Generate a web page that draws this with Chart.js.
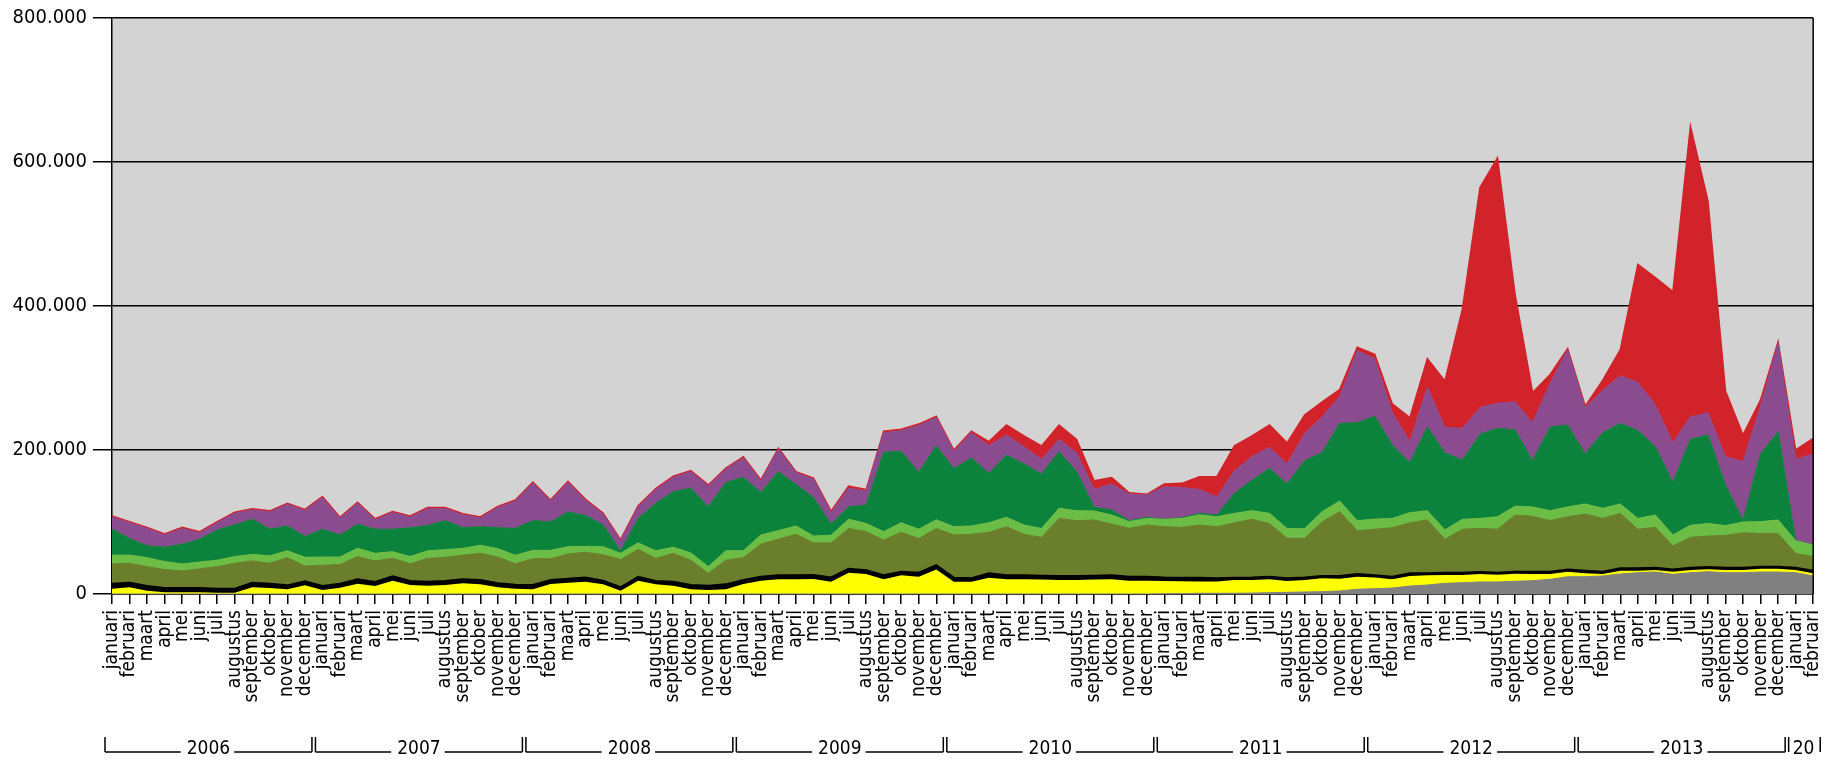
<!DOCTYPE html>
<html>
<head>
<meta charset="utf-8">
<script src="https://cdn.jsdelivr.net/npm/chart.js@4.4.0/dist/chart.umd.min.js"></script>
<style>
  html, body { margin: 0; padding: 0; background: #fff; }
  canvas { display: block; }
</style>
</head>
<body>
<canvas id="chart" width="1842" height="763" style="width:1842px;height:763px"></canvas>
<script>
// maanden en jaren voor de x-as
const monthNames = ['januari', 'februari', 'maart', 'april', 'mei', 'juni', 'juli',
    'augustus', 'september', 'oktober', 'november', 'december'];
const years = [2006, 2007, 2008, 2009, 2010, 2011, 2012, 2013, 2014];
const monthCount = 98; // januari 2006 t/m februari 2014

const yTicks = [0, 200000, 400000, 600000, 800000];

// bovenrand van elke laag (opgestapeld), per jaar een regel
const grayTop = [
    0, 0, 0, 0, 0, 0, 0, 0, 0, 0, 0, 0,
    0, 0, 0, 0, 0, 0, 0, 0, 0, 0, 0, 0,
    0, 0, 0, 0, 0, 0, 0, 0, 0, 0, 0, 0,
    0, 0, 0, 0, 0, 0, 0, 0, 0, 0, 0, 0,
    0, 0, 0, 0, 0, 0, 0, 0, 0, 0, 0, 0,
    300, 500, 1000, 1000, 1000, 1300, 1800, 2300, 2800, 3200, 4200, 6500,
    7400, 8300, 11000, 12500, 14800, 15700, 16700, 16700, 17600, 18500, 20400, 24000,
    24000, 25000, 27800, 29600, 30500, 27300, 29600, 31000, 29600, 29600, 30500, 30500,
    29600, 25000
];
const yellowTop = [
    7400, 9300, 4600, 2300, 2300, 2300, 1800, 1800, 9300, 8300, 6500, 12000,
    5600, 8800, 14400, 11000, 18500, 12500, 11600, 12500, 14800, 13400, 9300, 7400,
    6500, 13900, 15700, 17000, 13500, 4600, 18500, 13400, 11600, 6500, 5600, 6500,
    13900, 18500, 20400, 20400, 20800, 17000, 29600, 27800, 20400, 26000, 24000, 34000,
    17000, 17000, 22700, 20400, 20400, 20000, 19400, 19400, 20000, 20400, 18500, 18500,
    18000, 17600, 17500, 17500, 19400, 19400, 20400, 18000, 19400, 21800, 21300, 24000,
    23000, 20400, 25000, 26000, 26400, 26400, 27800, 26900, 28200, 27800, 27800, 31000,
    28700, 27800, 32400, 32400, 33300, 31000, 33300, 34300, 33300, 33300, 35000, 35000,
    33300, 28700
];
const blackTop = [
    14400, 15700, 11000, 8300, 8300, 8300, 7400, 7400, 15700, 14400, 12000, 17600,
    11000, 14400, 20400, 16700, 24500, 18000, 17000, 18000, 20400, 19400, 14800, 13000,
    12500, 19400, 21300, 23000, 18500, 9300, 24000, 18000, 17000, 12500, 11600, 13400,
    19400, 24000, 26000, 26000, 26400, 23000, 35000, 33000, 26000, 31000, 29600, 40000,
    22700, 22000, 28700, 26000, 26000, 25500, 25000, 25000, 25500, 26000, 24000, 24000,
    23000, 22700, 22500, 22000, 22700, 23000, 24000, 21800, 23000, 25000, 25000, 27800,
    26000, 24000, 28700, 28700, 29600, 29600, 30500, 29600, 31000, 31000, 31000, 34000,
    32400, 31000, 35700, 35700, 36600, 34000, 36600, 37500, 36600, 36600, 38000, 38000,
    36600, 32400
];
const oliveTop = [
    41700, 42600, 38000, 34000, 32000, 35000, 38000, 42600, 46000, 42600, 50500, 39000,
    40000, 41000, 52000, 46000, 49500, 42000, 49500, 51000, 54000, 56500, 51400, 42000,
    49000, 49000, 55600, 58000, 54500, 48000, 62000, 49500, 56500, 47000, 28700, 47000,
    50500, 69500, 76000, 83000, 71000, 71000, 91000, 86600, 75000, 85700, 77000, 91000,
    82000, 83000, 85700, 93500, 83000, 78700, 105000, 101900, 102800, 97200, 91200, 95800,
    93500, 92600, 95800, 93500, 99000, 103700, 98000, 77300, 77300, 100500, 114400, 88000,
    90000, 92000, 99000, 102800, 76000, 90000, 91000, 90000, 109700, 108000, 101900, 107400,
    111000, 105000, 112000, 90000, 92600, 66700, 78700, 80500, 81500, 85000, 84000, 84000,
    56500, 51900
];
const lightGreenTop = [
    54000, 54000, 50500, 45000, 41700, 44500, 47000, 52000, 55000, 53000, 60000, 51000,
    51400, 51400, 63400, 56500, 58800, 52000, 60000, 61600, 63400, 67600, 63000, 53700,
    60600, 60600, 65700, 66200, 65700, 56500, 71000, 60000, 65000, 57000, 38000, 60000,
    60000, 82000, 88000, 94500, 80500, 81500, 103700, 98000, 86600, 99000, 90000, 103000,
    93500, 94500, 99000, 106500, 95800, 91000, 119000, 115700, 115300, 109700, 100500, 105000,
    103700, 105000, 110000, 107400, 112000, 115700, 112000, 91000, 90700, 114400, 129000, 101900,
    104000, 105000, 113000, 115700, 89000, 103700, 105000, 107400, 122000, 121000, 115700, 121000,
    125000, 119000, 125000, 105000, 109700, 82000, 95400, 98000, 95000, 100000, 100500, 102800,
    74000, 68000
];
const darkGreenTop = [
    90000, 77000, 67000, 65000, 69000, 76000, 89000, 96000, 104000, 90000, 94500, 80000,
    90000, 82000, 97000, 90000, 90000, 92000, 95000, 102000, 92000, 93500, 92000, 91000,
    102000, 100000, 114000, 109000, 96000, 60000, 105000, 126000, 142000, 147000, 121000, 155000,
    162000, 141000, 170000, 152000, 134000, 97000, 121000, 123600, 197000, 198000, 169000, 206000,
    174000, 189000, 167600, 193000, 180600, 166700, 197700, 170000, 120400, 116700, 101900, 106500,
    104000, 106000, 112000, 109700, 139800, 158000, 174500, 152800, 185000, 196300, 237000, 238000,
    247000, 207000, 182400, 232000, 196000, 186000, 222000, 230000, 228000, 185000, 232000, 234700,
    194500, 224000, 237000, 227000, 204600, 154600, 214800, 220900, 151400, 101900, 194500, 225500,
    74000, 68000
];
const purpleTop = [
    107000, 99000, 91000, 82000, 91000, 85000, 99000, 112000, 117000, 114000, 124500, 116000,
    134000, 105000, 126000, 103000, 113000, 107000, 118500, 118500, 110000, 105500, 120000, 129000,
    154000, 129000, 155000, 130000, 111000, 74000, 121000, 145000, 162000, 170000, 150000, 173500,
    189000, 157000, 201000, 168500, 159700, 113000, 147000, 143000, 224000, 227000, 234000, 245000,
    198000, 224000, 206000, 220900, 204600, 187000, 214800, 196300, 145400, 152800, 138900, 137500,
    149000, 148000, 145000, 135000, 171000, 190800, 203700, 180600, 223000, 246000, 274000, 338000,
    327000, 252000, 211600, 287000, 231500, 230000, 259000, 265000, 267000, 238000, 292500, 339000,
    259000, 283000, 303000, 294000, 262600, 210000, 246000, 251700, 190800, 183800, 261000, 349000,
    187000, 194500
];
const redTop = [
    108500, 100500, 92500, 83500, 92500, 86500, 100500, 113500, 118500, 115500, 126000, 117500,
    135500, 106500, 127500, 104500, 114500, 108500, 120000, 120000, 111500, 107000, 121500, 130500,
    155500, 130500, 156500, 131500, 112500, 75500, 122500, 146500, 163500, 171500, 151500, 175000,
    190500, 158500, 202500, 170000, 161000, 115000, 150000, 145000, 226000, 229000, 236000, 247000,
    200000, 226000, 211600, 234700, 219500, 205600, 234700, 214800, 157400, 161600, 140700, 138400,
    152800, 153700, 163000, 163000, 206000, 219500, 234700, 210000, 248600, 267000, 284000, 342600,
    333000, 264000, 245000, 327000, 296000, 396000, 564600, 606000, 416500, 280000, 305000, 341000,
    261000, 297000, 339500, 458000, 439500, 420000, 650000, 546000, 281800, 220900, 269500, 350500,
    200000, 216000
];

const labels = [];
for (let i = 0; i < monthCount; i++) labels.push(monthNames[i % 12]);

const FONT = '"DejaVu Sans Condensed", "DejaVu Sans", sans-serif';

function layer(data, color, extra) {
    return Object.assign({
        data: data,
        fill: '-1',
        backgroundColor: color,
        borderColor: color,
        borderWidth: 1,
        pointRadius: 0,
        tension: 0
    }, extra || {});
}

const plotBackground = {
    id: 'plotBackground',
    beforeDraw(chart) {
        const { ctx, chartArea: a } = chart;
        ctx.save();
        ctx.fillStyle = '#d3d3d3';
        ctx.fillRect(a.left, a.top, a.right - a.left, a.bottom - a.top);
        ctx.restore();
    },
    afterDraw(chart) {
        const { ctx, chartArea: a } = chart;
        ctx.save();
        ctx.strokeStyle = '#000';
        ctx.lineWidth = 1.5;
        ctx.beginPath();
        ctx.moveTo(a.right, a.top);
        ctx.lineTo(a.right, a.bottom);
        ctx.stroke();
        ctx.restore();
    }
};

// jaartallen met haken onder de maandnamen
const yearBrackets = {
    id: 'yearBrackets',
    afterDraw(chart) {
        const { ctx } = chart;
        const x = chart.scales.x;
        const yLine = x.bottom - 11;
        const yTop = yLine - 15;
        const half = (x.getPixelForValue(1) - x.getPixelForValue(0)) * 0.4;
        ctx.save();
        ctx.strokeStyle = '#000';
        ctx.lineWidth = 1.5;
        ctx.fillStyle = '#000';
        ctx.font = '19px ' + FONT;
        ctx.textBaseline = 'middle';
        years.forEach((yr, i) => {
            const first = i * 12;
            const last = Math.min(first + 11, monthCount - 1);
            const xl = x.getPixelForValue(first) - half;
            const xr = x.getPixelForValue(last) + half;
            const text = String(yr);
            const w = ctx.measureText(text).width;
            ctx.beginPath();
            ctx.moveTo(xl, yTop);
            ctx.lineTo(xl, yLine);
            ctx.moveTo(xr, yTop);
            ctx.lineTo(xr, yLine);
            if (w + 16 < xr - xl) {
                const c = (xl + xr) / 2;
                ctx.moveTo(xl, yLine);
                ctx.lineTo(c - w / 2 - 6, yLine);
                ctx.moveTo(c + w / 2 + 4, yLine);
                ctx.lineTo(xr, yLine);
                ctx.stroke();
                ctx.textAlign = 'center';
                ctx.fillText(text, c, yLine - 3);
            } else {
                ctx.stroke();
                ctx.save();
                ctx.beginPath();
                ctx.rect(xl + 1, yTop - 12, xr - xl - 6, 34);
                ctx.clip();
                ctx.textAlign = 'left';
                ctx.fillText(text, xl + 4, yLine - 3);
                ctx.restore();
            }
        });
        ctx.restore();
    }
};

const ctx = document.getElementById('chart').getContext('2d');
const myChart = new Chart(ctx, {
    type: 'line',
    data: {
        labels: labels,
        datasets: [
            layer(grayTop, '#808080', { fill: 'origin' }),
            layer(yellowTop, '#ffff00'),
            layer(blackTop, '#000000', { borderWidth: 2, order: -1 }),
            layer(oliveTop, '#6b7e2b'),
            layer(lightGreenTop, '#6cbd45'),
            layer(darkGreenTop, '#0c833c'),
            layer(purpleTop, '#8b4c8f'),
            layer(redTop, '#d2232a', { borderWidth: 1.5 })
        ]
    },
    options: {
        responsive: false,
        animation: false,
        devicePixelRatio: 1,
        layout: { padding: { top: 16, right: 28, bottom: 0, left: 0 } },
        plugins: {
            legend: { display: false },
            tooltip: { enabled: false }
        },
        scales: {
            x: {
                grid: {
                    drawOnChartArea: false,
                    drawTicks: true,
                    tickLength: 10,
                    color: '#000',
                    lineWidth: 1.5
                },
                border: { display: true, color: '#000', width: 1.5 },
                ticks: {
                    autoSkip: false,
                    minRotation: 90,
                    maxRotation: 90,
                    padding: 6,
                    color: '#000',
                    font: { family: FONT, size: 19 }
                },
                afterFit: (scale) => { scale.height = 169; }
            },
            y: {
                min: 0,
                max: 800000,
                afterBuildTicks: (scale) => { scale.ticks = yTicks.map(v => ({ value: v })); },
                ticks: {
                    padding: 6,
                    color: '#000',
                    font: { family: FONT, size: 20 },
                    callback: (v) => String(v).replace(/\B(?=(\d{3})+(?!\d))/g, '.')
                },
                grid: { color: '#000', lineWidth: 1.5, tickLength: 19 },
                border: { color: '#000', width: 1.5 },
                afterFit: (scale) => { scale.width = 112; }
            }
        }
    },
    plugins: [plotBackground, yearBrackets]
});
</script>
</body>
</html>
